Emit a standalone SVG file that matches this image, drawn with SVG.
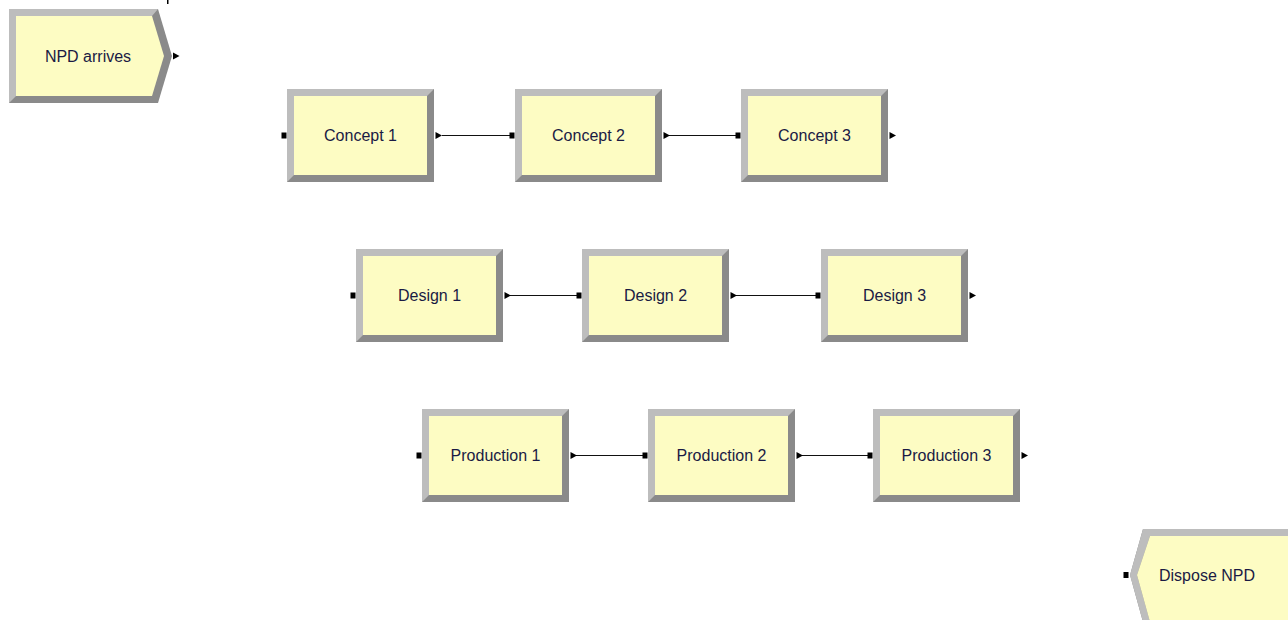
<svg xmlns="http://www.w3.org/2000/svg" width="1288" height="620" viewBox="0 0 1288 620">
<style>
.lbl{font-family:"Liberation Sans",Arial,sans-serif;font-size:16px;fill:#1a1a44;text-anchor:middle}
.dk{fill:#8a8a8a}
.lt{fill:#bdbdbd}
.fill{fill:#fdfcc3}
.blk{fill:#000}
.con{stroke:#111;stroke-width:1.2;fill:none}
</style>
<defs>
<g id="box">
<rect class="dk" x="0" y="0" width="147" height="93"/>
<polygon class="lt" points="0,0 147,0 140,7 7,7 7,86 0,93"/>
<rect class="fill" x="7" y="7" width="133" height="79"/>
<rect class="blk" x="-5.5" y="43.5" width="5" height="6"/>
<polygon class="blk" points="148.5,43 155,46.5 148.5,50"/>
</g>
</defs>
<rect width="1288" height="620" fill="#fff"/>
<rect class="blk" x="167" y="0" width="1.5" height="4"/>

<g id="connectors">
<line class="con" x1="442" y1="135.5" x2="510" y2="135.5"/>
<line class="con" x1="668" y1="135.5" x2="736" y2="135.5"/>
<line class="con" x1="509" y1="295.5" x2="577" y2="295.5"/>
<line class="con" x1="735" y1="295.5" x2="816" y2="295.5"/>
<line class="con" x1="575" y1="455.5" x2="643" y2="455.5"/>
<line class="con" x1="801" y1="455.5" x2="868" y2="455.5"/>
</g>

<g id="npd-arrives">
<polygon class="dk" points="9,9 158,9 172,56 158,103 9,103"/>
<polygon class="lt" points="9,9 158,9 152,16 16,16 16,96 9,103"/>
<polygon class="fill" points="16,16 152,16 164,56 152,96 16,96"/>
<polygon class="blk" points="173,52.5 179.5,56 173,59.5"/>
<text class="lbl" x="88" y="62">NPD arrives</text>
</g>

<g id="concept1"><use href="#box" x="287" y="89"/><text class="lbl" x="360.5" y="141">Concept 1</text></g>
<g id="concept2"><use href="#box" x="515" y="89"/><text class="lbl" x="588.5" y="141">Concept 2</text></g>
<g id="concept3"><use href="#box" x="741" y="89"/><text class="lbl" x="814.5" y="141">Concept 3</text></g>

<g id="design1"><use href="#box" x="356" y="249"/><text class="lbl" x="429.5" y="301">Design 1</text></g>
<g id="design2"><use href="#box" x="582" y="249"/><text class="lbl" x="655.5" y="301">Design 2</text></g>
<g id="design3"><use href="#box" x="821" y="249"/><text class="lbl" x="894.5" y="301">Design 3</text></g>

<g id="production1"><use href="#box" x="422" y="409"/><text class="lbl" x="495.5" y="461">Production 1</text></g>
<g id="production2"><use href="#box" x="648" y="409"/><text class="lbl" x="721.5" y="461">Production 2</text></g>
<g id="production3"><use href="#box" x="873" y="409"/><text class="lbl" x="946.5" y="461">Production 3</text></g>

<g id="dispose-npd">
<polygon class="dk" points="1143,529 1292,529 1292,622 1143,622 1130,575"/>
<polygon class="lt" points="1143,529 1292,529 1292,536 1150,536 1137,575 1150,622 1143,622 1130,575"/>
<polygon class="fill" points="1150,536 1292,536 1292,622 1150,622 1137,575"/>
<rect class="blk" x="1123.5" y="572" width="5" height="6"/>
<text class="lbl" x="1207" y="581">Dispose NPD</text>
</g>
</svg>
